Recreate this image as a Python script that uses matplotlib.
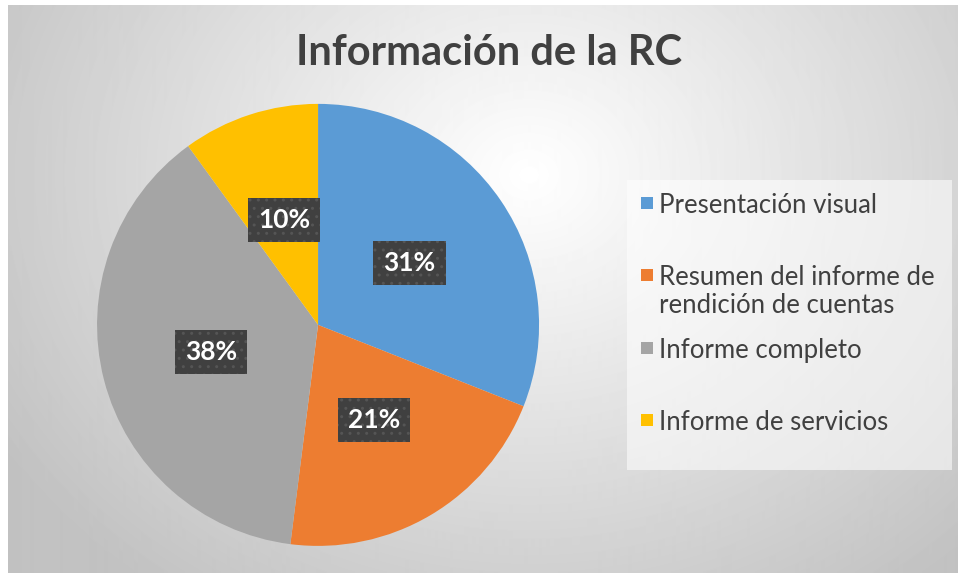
import matplotlib.pyplot as plt
import numpy as np
from matplotlib.patches import Rectangle

# Data
categories = ['Presentación visual',
              'Resumen del informe de\nrendición de cuentas',
              'Informe completo',
              'Informe de servicios']
values = [31, 21, 38, 10]
colors = ['#5B9BD5', '#ED7D31', '#A5A5A5', '#FFC000']
title = 'Información de la RC'

plt.rcParams['font.family'] = ['Lato', 'DejaVu Sans']

fig = plt.figure(figsize=(9.58, 5.73), dpi=100)

# radial gradient background
bg = fig.add_axes([0.008, 0, 0.992, 0.991])
h, w = 568, 950
yy, xx = np.mgrid[0:h, 0:w]
d = np.sqrt(((xx - 520) / 620.0) ** 2 + ((yy - 170) / 520.0) ** 2)
shade = np.clip(1.0 - 0.24 * d, 0.76, 1.0)
bg.imshow(shade, cmap='gray', vmin=0, vmax=1, aspect='auto', interpolation='bilinear')
bg.axis('off')

# pie
ax = fig.add_axes([0.1013, 0.0473, 0.4614, 0.7714])
wedges, texts, autotexts = ax.pie(
    values, colors=colors, startangle=90, counterclock=False,
    autopct='%1.0f%%', pctdistance=0.5, radius=1,
    textprops=dict(color='white', fontsize=19, fontweight='bold'))
for t in autotexts:
    t.set_bbox(dict(boxstyle='square,pad=0.38', facecolor='#404040',
                    edgecolor='#555555', hatch='..', linewidth=0))
ax.set_xlim(-1, 1)
ax.set_ylim(-1, 1)
ax.set_aspect('equal')
ax.axis('off')

fig.text(0.51, 0.907, title, ha='center', va='center',
         fontsize=30, fontweight='bold', color='#404040')

# legend, drawn as a light panel with square keys
fig.patches.append(Rectangle((0.6545, 0.1798), 0.339, 0.506, transform=fig.transFigure,
                             facecolor='white', alpha=0.55, edgecolor='none'))
for i, (lab, c) in enumerate(zip(categories, colors)):
    yc = 1 - (203 + 72.3 * i) / 573
    fig.patches.append(Rectangle((641 / 958, yc - 6 / 573), 12 / 958, 12 / 573,
                                 transform=fig.transFigure, facecolor=c, edgecolor='none'))
    for j, line in enumerate(lab.split('\n')):
        fig.text(659 / 958, yc - j * 28 / 573, line, ha='left', va='center_baseline',
                 fontsize=18.5, color='#404040')

fig.savefig('out.png', dpi=100)
